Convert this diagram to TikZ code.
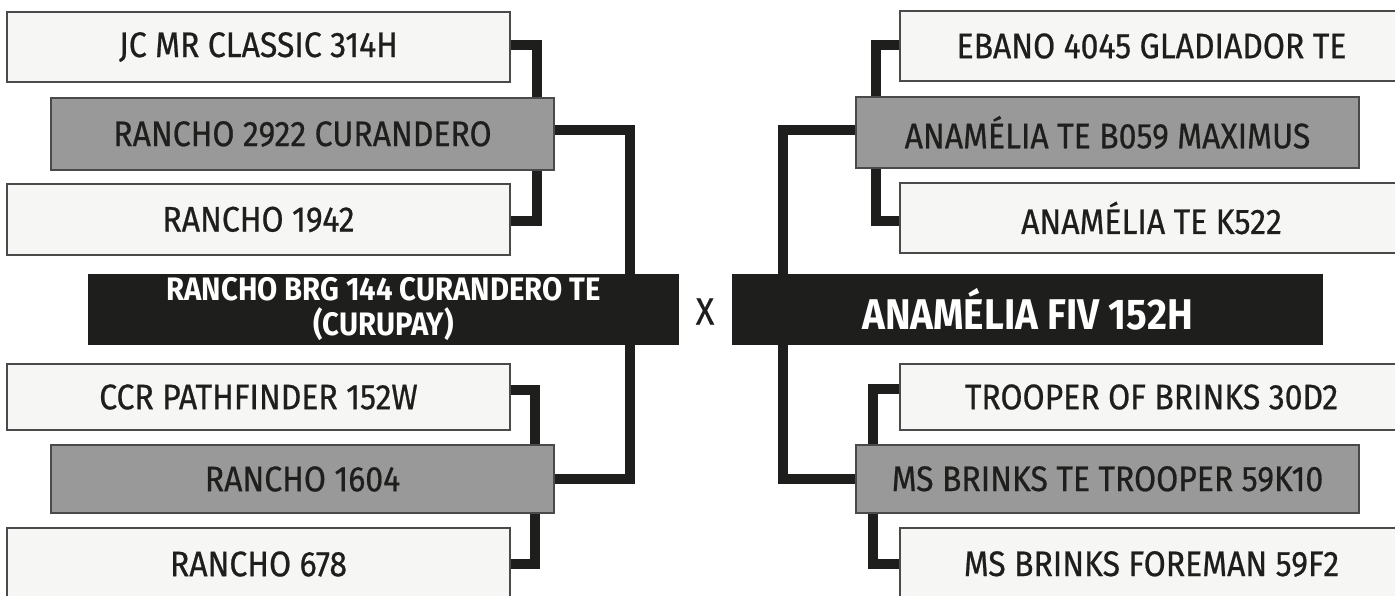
\documentclass[tikz,border=0pt]{standalone}
\usepackage{fontspec}
\setmainfont{Fira Sans}[FakeStretch=0.9, UprightFeatures={FakeBold=0.6}, BoldFeatures={FakeBold=0}]
\usetikzlibrary{calc}
\definecolor{lightbox}{HTML}{F6F6F4}
\definecolor{graybox}{HTML}{999999}
\definecolor{darkbox}{HTML}{1E1E1C}
\definecolor{edgecol}{HTML}{4A4A4A}
\pgfdeclarelayer{bg}
\pgfsetlayers{bg,main}
\begin{document}
\begin{tikzpicture}[x=1pt,y=-1pt,
  lbox/.style={draw=edgecol, line width=1.2pt, fill=lightbox, minimum width=503pt, inner sep=0pt,
    font=\fontsize{35.5}{38}\selectfont, text=darkbox},
  gbox/.style={lbox, fill=graybox},
  bbox/.style={fill=darkbox, minimum width=591pt, minimum height=71pt, inner sep=0pt, text=white},
  conn/.style={draw=darkbox, line width=10pt},
  xlabel/.style={font=\fontsize{38}{40}\selectfont, text=darkbox, inner sep=0pt}]
\useasboundingbox (0,0) rectangle (1395,596);
\begin{scope}
\clip (0,0) rectangle (1395,596);
% left side
\node[lbox, minimum height=70pt] (L1) at (258.5,47) {JC MR CLASSIC 314H};
\node[gbox, minimum height=72pt] (G1) at (302.5,134) {RANCHO 2922 CURANDERO};
\node[lbox, minimum height=71pt] (L3) at (258.5,219.5) {RANCHO 1942};
\node[bbox, align=center, font=\bfseries\fontsize{32.5}{35}\selectfont] (LB) at (383.5,309.5)
  {RANCHO BRG 144 CURANDERO TE\\(CURUPAY)};
\node[lbox, minimum height=66pt] (L4) at (258.5,397) {CCR PATHFINDER 152W};
\node[gbox, minimum height=68pt] (G2) at (302.5,479) {RANCHO 1604};
\node[lbox, minimum height=72pt] (L6) at (258.5,564) {RANCHO 678};
% right side
\node[lbox, minimum height=70pt] (R1) at (1151.5,46) {EBANO 4045 GLADIADOR TE};
\node[gbox, minimum height=71pt] (RG1) at (1107.5,132.5) {ANAMÉLIA TE B059 MAXIMUS};
\node[lbox, minimum height=70pt] (R3) at (1151.5,218) {ANAMÉLIA TE K522};
\node[bbox, font=\bfseries\fontsize{43}{46}\selectfont] (RB) at (1027.5,309.5) {ANAMÉLIA FIV 152H};
\node[lbox, minimum height=66pt] (R4) at (1151.5,397) {TROOPER OF BRINKS 30D2};
\node[gbox, minimum height=68pt] (RG2) at (1107.5,479) {MS BRINKS TE TROOPER 59K10};
\node[lbox, minimum height=72pt] (R6) at (1151.5,564) {MS BRINKS FOREMAN 59F2};
\node[xlabel] (X) at (705,311.5) {X};
% connectors
\begin{pgfonlayer}{bg}
\draw[conn] ($(L1.east)+(0,-2)$) -- ++(26,0) |- ($(L3.east)+(0,2)$);
\draw[conn] ($(G1.east)+(0,-4)$) -- ++(75,0) |- (G2.east);
\draw[conn] ($(L4.east)+(0,-7)$) -- ++(24,0) |- (L6.east);
\draw[conn] ($(R1.west)+(0,-1)$) -- ++(-23,0) |- ($(R3.west)+(0,3)$);
\draw[conn] ($(RG1.west)+(0,-2)$) -- ++(-72,0) |- (RG2.west);
\draw[conn] ($(R4.west)+(0,-8)$) -- ++(-26,0) |- (R6.west);
\end{pgfonlayer}
\end{scope}
\end{tikzpicture}
\end{document}
